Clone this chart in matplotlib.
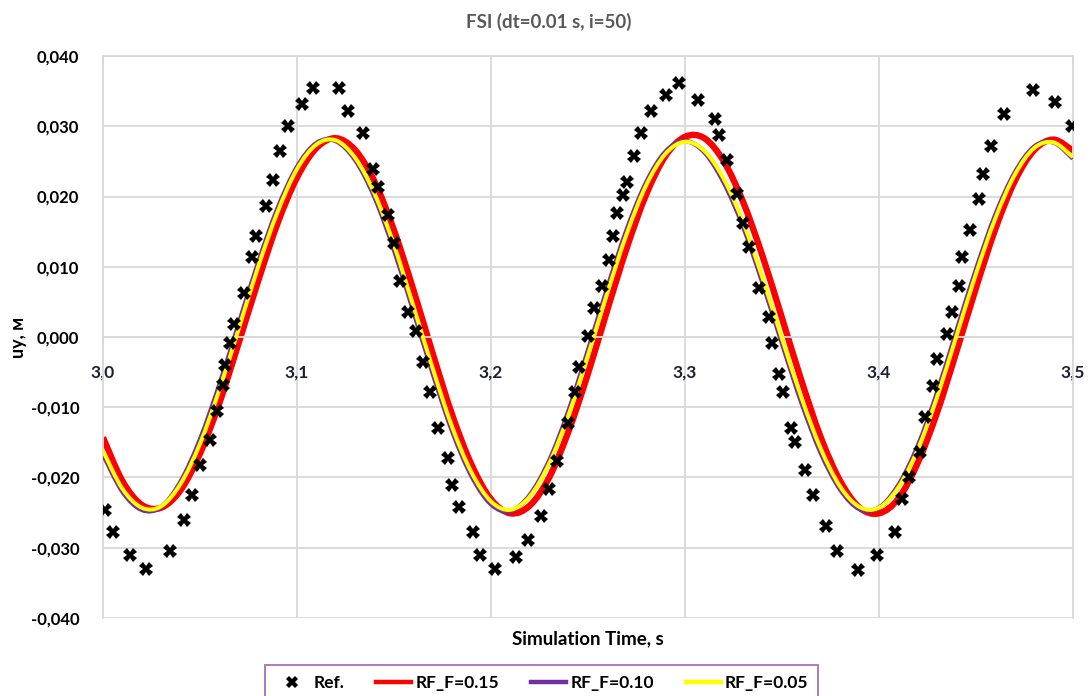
import numpy as np
import matplotlib.pyplot as plt
from matplotlib.path import Path
from matplotlib.patches import PathPatch
from matplotlib.lines import Line2D

plt.rcParams['font.family'] = ['Lato', 'DejaVu Sans']

# reference points
ref_t = [3.0010, 3.0053, 3.0139, 3.0222, 3.0345, 3.0418, 3.0457, 3.0500, 3.0552, 3.0586,
         3.0620, 3.0629, 3.0655, 3.0675, 3.0727, 3.0766, 3.0787, 3.0839, 3.0875, 3.0912,
         3.0955, 3.1024, 3.1081, 3.1215, 3.1265, 3.1339, 3.1393, 3.1419, 3.1471, 3.1500,
         3.1531, 3.1574, 3.1612, 3.1648, 3.1686, 3.1725, 3.1777, 3.1799, 3.1833, 3.1906,
         3.1943, 3.2021, 3.2129, 3.2189, 3.2258, 3.2299, 3.2339, 3.2399, 3.2433, 3.2455,
         3.2502, 3.2531, 3.2571, 3.2610, 3.2627, 3.2651, 3.2679, 3.2699, 3.2737, 3.2773,
         3.2825, 3.2902, 3.2971, 3.3069, 3.3155, 3.3177, 3.3215, 3.3266, 3.3301, 3.3332,
         3.3381, 3.3433, 3.3450, 3.3486, 3.3507, 3.3546, 3.3569, 3.3620, 3.3658, 3.3725,
         3.3782, 3.3893, 3.3991, 3.4082, 3.4120, 3.4156, 3.4211, 3.4237, 3.4280, 3.4301,
         3.4349, 3.4375, 3.4412, 3.4429, 3.4469, 3.4517, 3.4534, 3.4576, 3.4644, 3.4792,
         3.4907, 3.4996]
ref_uy = [-0.0246, -0.0277, -0.0310, -0.0330, -0.0304, -0.0261, -0.0225, -0.0182, -0.0146, -0.0106,
          -0.0068, -0.0040, -0.0008, 0.0019, 0.0062, 0.0114, 0.0144, 0.0186, 0.0224, 0.0265,
          0.0300, 0.0332, 0.0354, 0.0355, 0.0322, 0.0291, 0.0239, 0.0213, 0.0174, 0.0134,
          0.0080, 0.0036, 0.0009, -0.0035, -0.0078, -0.0129, -0.0172, -0.0210, -0.0242, -0.0277,
          -0.0310, -0.0330, -0.0313, -0.0289, -0.0255, -0.0217, -0.0177, -0.0123, -0.0078, -0.0043,
          0.0001, 0.0041, 0.0073, 0.0109, 0.0144, 0.0176, 0.0202, 0.0220, 0.0258, 0.0291,
          0.0322, 0.0344, 0.0361, 0.0338, 0.0311, 0.0288, 0.0252, 0.0203, 0.0163, 0.0128,
          0.0070, 0.0028, -0.0008, -0.0052, -0.0079, -0.0129, -0.0149, -0.0190, -0.0225, -0.0269,
          -0.0304, -0.0331, -0.0310, -0.0277, -0.0231, -0.0200, -0.0163, -0.0114, -0.0070, -0.0032,
          0.0004, 0.0035, 0.0073, 0.0114, 0.0152, 0.0196, 0.0232, 0.0272, 0.0317, 0.0352,
          0.0335, 0.0300]

# FSI results, dt = 0.01 s
time = [3.00, 3.01, 3.02, 3.03, 3.04, 3.05, 3.06, 3.07, 3.08, 3.09,
        3.10, 3.11, 3.12, 3.13, 3.14, 3.15, 3.16, 3.17, 3.18, 3.19,
        3.20, 3.21, 3.22, 3.23, 3.24, 3.25, 3.26, 3.27, 3.28, 3.29,
        3.30, 3.31, 3.32, 3.33, 3.34, 3.35, 3.36, 3.37, 3.38, 3.39,
        3.40, 3.41, 3.42, 3.43, 3.44, 3.45, 3.46, 3.47, 3.48, 3.49, 3.50]
uy_rf015 = [-0.0143, -0.0205, -0.0239, -0.0243, -0.0218, -0.0166, -0.0094, -0.0008, 0.0080, 0.0162,
            0.0227, 0.0269, 0.0283, 0.0266, 0.0221, 0.0152, 0.0067, -0.0024, -0.0111, -0.0182,
            -0.0231, -0.0251, -0.0240, -0.0200, -0.0134, -0.0052, 0.0039, 0.0127, 0.0203, 0.0258,
            0.0285, 0.0283, 0.0250, 0.0192, 0.0115, 0.0027, -0.0062, -0.0143, -0.0205, -0.0243,
            -0.0251, -0.0230, -0.0179, -0.0107, -0.0020, 0.0070, 0.0154, 0.0222, 0.0266, 0.0281, 0.0265]
uy_rf010 = [-0.0167, -0.0220, -0.0246, -0.0242, -0.0206, -0.0146, -0.0068, 0.0019, 0.0106, 0.0183,
            0.0242, 0.0276, 0.0279, 0.0252, 0.0199, 0.0124, 0.0037, -0.0052, -0.0134, -0.0198,
            -0.0238, -0.0248, -0.0225, -0.0176, -0.0105, -0.0019, 0.0070, 0.0153, 0.0220, 0.0264,
            0.0279, 0.0263, 0.0220, 0.0157, 0.0077, -0.0009, -0.0093, -0.0165, -0.0217, -0.0245,
            -0.0243, -0.0211, -0.0155, -0.0079, 0.0009, 0.0096, 0.0174, 0.0234, 0.0271, 0.0277, 0.0254]
uy_rf005 = [-0.0162, -0.0216, -0.0243, -0.0241, -0.0209, -0.0152, -0.0075, 0.0012, 0.0100, 0.0178,
            0.0239, 0.0274, 0.0280, 0.0255, 0.0204, 0.0131, 0.0044, -0.0045, -0.0128, -0.0193,
            -0.0234, -0.0246, -0.0227, -0.0180, -0.0111, -0.0026, 0.0063, 0.0147, 0.0216, 0.0261,
            0.0278, 0.0265, 0.0225, 0.0163, 0.0084, -0.0002, -0.0086, -0.0159, -0.0213, -0.0242,
            -0.0243, -0.0214, -0.0160, -0.0085, 0.0002, 0.0090, 0.0169, 0.0231, 0.0269, 0.0277, 0.0256]

x_ticks = [3.0, 3.1, 3.2, 3.3, 3.4, 3.5]
y_ticks = [-0.04, -0.03, -0.02, -0.01, 0.0, 0.01, 0.02, 0.03, 0.04]

SERIES = [
    ("RF_F=0.15", uy_rf015, "#ff0000", 4.6),
    ("RF_F=0.10", uy_rf010, "#7030a0", 3.3),
    ("RF_F=0.05", uy_rf005, "#ffff00", 2.9),
]


def smooth_path(x, y):
    # bezier path through the points, like a "smoothed line" in a spreadsheet
    pts = np.column_stack([x, y])
    ext = np.vstack([pts[0], pts, pts[-1]])
    verts = [pts[0]]
    codes = [Path.MOVETO]
    for i in range(len(pts) - 1):
        p0, p1, p2, p3 = ext[i], ext[i + 1], ext[i + 2], ext[i + 3]
        verts += [p1 + (p2 - p0) / 6, p2 - (p3 - p1) / 6, p2]
        codes += [Path.CURVE4] * 3
    return Path(verts, codes)


fig = plt.figure(figsize=(10.91, 6.96), dpi=100)
ax = fig.add_axes([0.0944, 0.1121, 0.8891, 0.8074])

ax.plot(ref_t, ref_uy, linestyle="none", marker="X", markersize=9.5,
        color="black", markeredgewidth=0, zorder=5)

handles = [Line2D([], [], linestyle="none", marker="X", markersize=9,
                  color="black", markeredgewidth=0, label="Ref.")]
for z, (name, vals, col, lw) in enumerate(SERIES):
    ax.add_patch(PathPatch(smooth_path(time, vals), facecolor="none", edgecolor=col,
                           linewidth=lw, capstyle="butt", joinstyle="round", zorder=2 + z))
    handles.append(Line2D([], [], color=col, linewidth=3.2, label=name))

ax.set_xlim(3.0, 3.5)
ax.set_ylim(-0.04, 0.04)
ax.set_xticks(x_ticks)
ax.set_yticks(y_ticks)
ax.set_xticklabels([f"{v:.1f}".replace(".", ",") for v in x_ticks])
ax.set_yticklabels([f"{v:.3f}".replace(".", ",").replace("-0,000", "0,000") for v in y_ticks])

ax.grid(True, color="#d9d9d9", linewidth=1.3)
ax.set_axisbelow(True)
for side in ["top", "right", "left"]:
    ax.spines[side].set_color("#d9d9d9")
    ax.spines[side].set_linewidth(1.3)
ax.spines["bottom"].set_position(("data", 0))
ax.spines["bottom"].set_color("#d9d9d9")
ax.spines["bottom"].set_linewidth(1.3)
ax.tick_params(length=0)
ax.tick_params(axis="x", pad=20)
ax.tick_params(axis="y", pad=17)
for lbl in ax.get_xticklabels():
    lbl.set_fontweight("bold")
    lbl.set_fontsize(12.5)
    lbl.set_color("#1f1f3a")
for lbl in ax.get_yticklabels():
    lbl.set_fontweight("bold")
    lbl.set_fontsize(12)

ax.set_xlabel("Simulation Time, s", fontsize=13.5, fontweight="bold")
ax.xaxis.set_label_coords(0.5, -0.022)
ax.set_ylabel("uy, м", fontsize=13, fontweight="bold")
ax.yaxis.set_label_coords(-0.078, 0.5)

fig.text(0.503, 0.968, "FSI (dt=0.01 s, i=50)", ha="center", va="center",
         fontsize=13.5, fontweight="bold", color="#595959")

leg = fig.legend(handles=handles, loc="upper center", bbox_to_anchor=(0.4963, 0.0445),
                 ncol=4, frameon=True, fancybox=False, handlelength=2.0,
                 handletextpad=0.25, columnspacing=1.85, borderaxespad=0,
                 borderpad=0.55, prop={"weight": "bold", "size": 12.5})
leg.get_frame().set_edgecolor("#8c4f9f")
leg.get_frame().set_linewidth(1.3)

fig.savefig("out.png", dpi=100)
